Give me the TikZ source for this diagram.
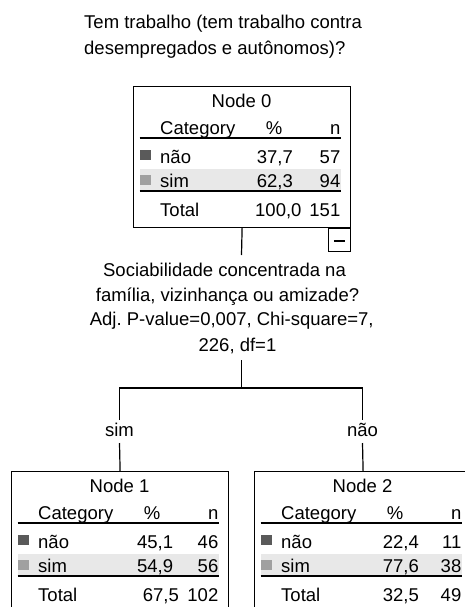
\documentclass[tikz,border=0pt]{standalone}
\usepackage{fontspec}
\setmainfont{Liberation Sans}
\usetikzlibrary{calc}
\frenchspacing
\definecolor{darksq}{HTML}{5A5A5A}
\definecolor{lightsq}{HTML}{A0A0A0}
\definecolor{rowhl}{HTML}{E8E8E8}
\tikzset{
  txt/.style={inner sep=0pt, anchor=base, font=\fontsize{18.5}{22}\selectfont},
  txtl/.style={txt, anchor=base west},
  txtr/.style={txt, anchor=base east},
  nodebox/.style={draw, line width=1.2pt, rectangle, inner sep=0pt, anchor=north west,
    minimum width=217pt, minimum height=141pt},
  conn/.style={line width=1.2pt},
}
% #1 name, #2 title, #3 p1, #4 n1, #5 p2, #6 n2, #7 ptot, #8 ntot, #9 value right offset
\newcommand{\statbox}[9]{%
  \begin{scope}[shift={(#1.north west)}]
    \fill[rowhl] (6.7,83) rectangle (208,104);
    \node[txt] (#1title) at (108.5,21.5) {#2};
    \node[txtl] (#1cat) at (27,48.3) {Category};
    \node[txt] (#1pct) at (141,48.3) {\%};
    \node[txtr] (#1n) at (207.5,48.3) {n};
    \draw[line width=1.2pt] (6.7,51.9) -- (208,51.9);
    \fill[darksq] (7,63.5) rectangle (17.5,74);
    \node[txtl] (#1c1) at (27,77) {não};
    \node[txtr] (#1p1) at (#9,77) {#3};
    \node[txtr] (#1n1) at (207.5,77) {#4};
    \fill[lightsq] (7,88.5) rectangle (17.5,99);
    \node[txtl] (#1c2) at (27,101) {sim};
    \node[txtr] (#1p2) at (#9,101) {#5};
    \node[txtr] (#1n2) at (207.5,101) {#6};
    \draw[line width=1.8pt] (6.7,105) -- (208,105);
    \node[txtl] (#1tl) at (27,130) {Total};
  \end{scope}}
\begin{document}
\begin{tikzpicture}[x=1pt,y=-1pt]
\useasboundingbox (0,0) rectangle (465,607);
% title
\node[txtl] (title1) at (84,28.4) {Tem trabalho (tem trabalho contra};
\node[txtl] (title2) at (84,55) {desempregados e autônomos)?};
% Node 0
\node[nodebox] (n0) at (133,86) {};
\statbox{n0}{Node 0}{37,7}{57}{62,3}{94}{100,0}{151}{160}
\begin{scope}[shift={(n0.north west)}]
  \node[txtr] (n0totp) at (168.7,130) {100,0};
  \node[txtr] (n0totn) at (207.5,130) {151};
\end{scope}
% minus box
\node[draw, line width=1.2pt, inner sep=0pt, minimum width=22.5pt, minimum height=23pt, anchor=north east] (minus) at (n0.south east) {};
\draw[line width=1.8pt] ($(minus.center)+(-5.5,0.6)$) -- ($(minus.center)+(5.5,0.6)$);
% split text
\node[txt] (q1) at (224.5,276.7) {Sociabilidade concentrada na};
\node[txt] (q2) at (227.5,301.5) {família, vizinhança ou amizade?};
\node[txt] (q3) at (231.7,325) {Adj. P-value=0,007, Chi-square=7,};
\node[txt] (q4) at (237.5,351.7) {226, df=1};
% branch labels
\node[txt] (bsim) at (119.5,436.7) {sim};
\node[txt] (bnao) at (362.5,436.7) {não};
% child nodes
\node[nodebox] (n1) at (11,471) {};
\statbox{n1}{Node 1}{45,1}{46}{54,9}{56}{67,5}{102}{162.3}
\begin{scope}[shift={(n1.north west)}]
  \node[txtr] (n1totp) at (168,130) {67,5};
  \node[txtr] (n1totn) at (207.5,130) {102};
\end{scope}
\node[nodebox] (n2) at (254,471) {};
\statbox{n2}{Node 2}{22,4}{11}{77,6}{38}{32,5}{49}{165}
\begin{scope}[shift={(n2.north west)}]
  \node[txtr] (n2totp) at (165,130) {32,5};
  \node[txtr] (n2totn) at (207.5,130) {49};
\end{scope}
% connectors
\coordinate (c0) at (241.5,255);
\coordinate (c1) at (241.5,360);
\coordinate (j) at (241.5,388);
\coordinate (jl) at (119.5,388);
\coordinate (jr) at (362.5,388);
\coordinate (jlb) at (119.5,420);
\coordinate (jrb) at (362.5,420);
\coordinate (sl) at (119.5,443);
\coordinate (sr) at (362.5,443);
\draw[conn] (n0.south) -- (c0);
\draw[conn] (c1) -- (j);
\draw[conn] (jlb) -- (jl) -- (jr) -- (jrb);
\draw[conn] (sl) -- (n1.north);
\draw[conn] (sr) -- (n2.north);
\end{tikzpicture}
\end{document}
